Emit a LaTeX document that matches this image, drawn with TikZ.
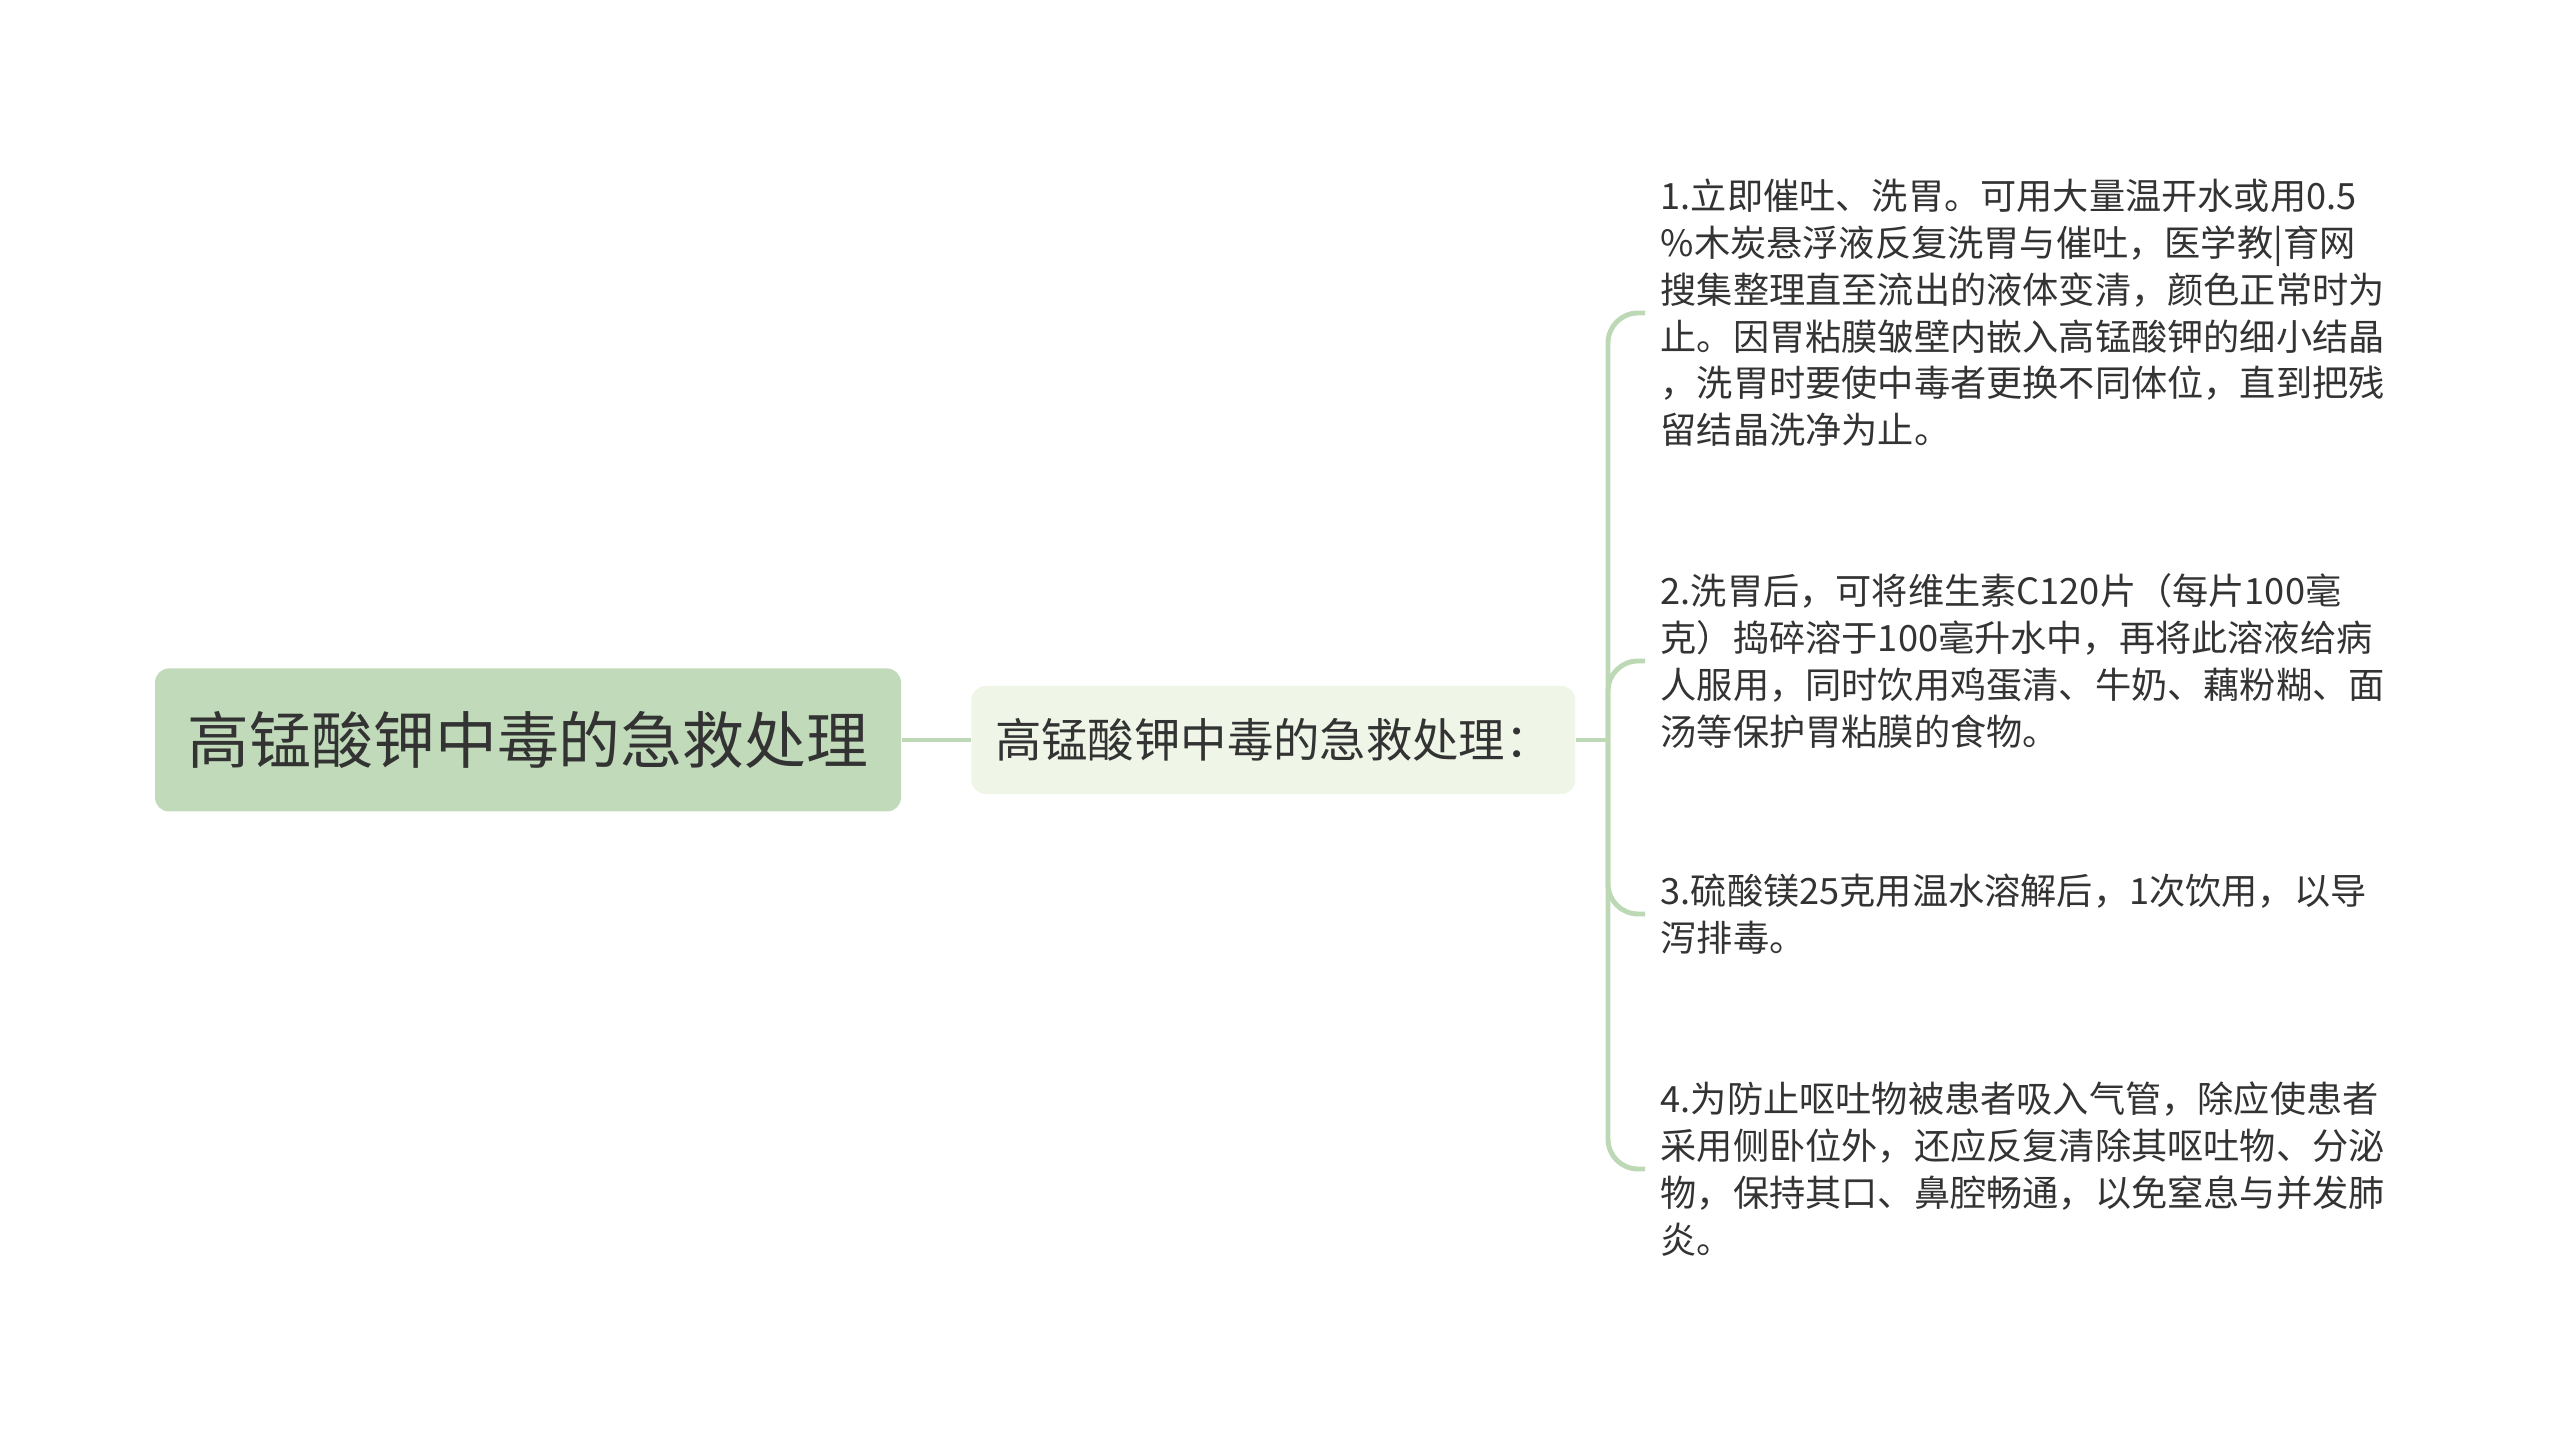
\documentclass[tikz,border=0pt]{standalone}
\usepackage{fontspec}
\newfontfamily\cjk{Noto Sans CJK SC}
\usetikzlibrary{positioning, calc}
\definecolor{rootgreen}{HTML}{C1DBBA}
\definecolor{subgreen}{HTML}{EFF6E8}
\definecolor{linkgreen}{HTML}{BCD8B4}
\definecolor{inkgray}{HTML}{333333}
\tikzset{
    rootbox/.style={rectangle, rounded corners=0.14cm, fill=rootgreen, text=inkgray, minimum width=7.46cm, minimum height=1.43cm, align=center, font={\cjk\fontsize{17.6}{20}\selectfont}},
    subbox/.style={rectangle, rounded corners=0.14cm, fill=subgreen, text=inkgray, minimum width=6.04cm, minimum height=1.08cm, align=center, font={\cjk\fontsize{13.2}{16}\selectfont}},
    leaf/.style={anchor=west, inner sep=0.15cm, text=inkgray, align=left, font={\cjk\fontsize{10.3}{13.3}\selectfont}},
    link/.style={draw=linkgreen, line width=1.4pt, rounded corners=0.3cm}
}
\begin{document}
\begin{tikzpicture}
            \useasboundingbox (0,0) rectangle (25.6,14.35);
            \node[rootbox] (root) at (5.28,6.95) {高锰酸钾中毒的急救处理};
            \node[subbox] (topic) [right=0.69cm of root] {高锰酸钾中毒的急救处理：};
            \coordinate (hub) at (16.08,6.95);

            \node[leaf] (wash) at (16.45,11.22) {1.立即催吐、洗胃。可用大量温开水或用0.5\\\%木炭悬浮液反复洗胃与催吐，医学教|育网\\搜集整理直至流出的液体变清，颜色正常时为\\止。因胃粘膜皱壁内嵌入高锰酸钾的细小结晶\\，洗胃时要使中毒者更换不同体位，直到把残\\留结晶洗净为止。};
            \node[leaf] (vitc) at (16.45,7.74) {2.洗胃后，可将维生素C120片（每片100毫\\克）捣碎溶于100毫升水中，再将此溶液给病\\人服用，同时饮用鸡蛋清、牛奶、藕粉糊、面\\汤等保护胃粘膜的食物。};
            \node[leaf] (purge) at (16.45,5.21) {3.硫酸镁25克用温水溶解后，1次饮用，以导\\泻排毒。};
            \node[leaf] (airway) at (16.45,2.66) {4.为防止呕吐物被患者吸入气管，除应使患者\\采用侧卧位外，还应反复清除其呕吐物、分泌\\物，保持其口、鼻腔畅通，以免窒息与并发肺\\炎。};

            \draw[link] (root) -- (topic);
            \draw[link] (topic) -- (hub);
            \draw[link] (hub) |- (wash.west);
            \draw[link] (hub) |- (vitc.west);
            \draw[link] (hub) |- (purge.west);
            \draw[link] (hub) |- (airway.west);
        \end{tikzpicture}
\end{document}
